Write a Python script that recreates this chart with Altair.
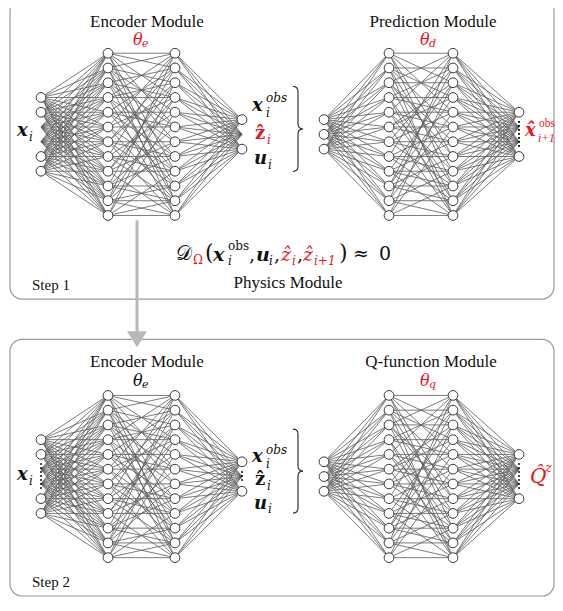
import altair as alt
import pandas as pd

# ---------------- network structure ----------------
enc_cols = [41, 108, 175, 242]          # encoder layer columns (page px)
pred_cols = [324, 389, 453, 519]        # prediction / Q-function layer columns
hidden_n = 12
node_gap = 15
step_top = [54, 402]                    # top hidden node of step 1 / step 2
enc_in_slots, enc_in_visible = 6, [0, 1, 4, 5]
enc_out_slots, enc_out_visible = 3, [0, 2]
pred_in_slots, pred_in_visible = 3, [0, 1, 2]
pred_out_slots, pred_out_visible = 4, [0, 3]

# hidden -> hidden connections (source index -> target indices)
enc_hh = [[0, 1, 3, 5, 8, 10], [0, 2, 4, 6, 9, 11], [1, 3, 5, 7, 10], [0, 2, 3, 6, 8, 11],
          [1, 4, 5, 7, 9], [0, 3, 5, 8, 10], [1, 2, 6, 7, 9, 11], [0, 4, 7, 8, 10],
          [2, 3, 6, 8, 11], [1, 5, 7, 9, 10], [0, 3, 6, 9, 10, 11], [2, 4, 8, 10, 11]]
pred_hh = [[0, 2, 4, 7, 9], [1, 3, 5, 8, 11], [0, 2, 6, 7, 10], [1, 3, 4, 9, 11],
           [0, 4, 5, 8, 10], [2, 3, 5, 6, 11], [1, 4, 6, 7, 9], [0, 5, 7, 8, 10],
           [2, 6, 8, 9, 11], [1, 3, 7, 9, 10], [0, 4, 8, 10, 11], [2, 5, 9, 11]]

# dotted "..." markers: (x, y1, y2)
dots_x = [41, 242, 519, 519]
dots_y1 = [471, 479, 123, 471]
dots_y2 = [498, 491, 149, 498]

# panels
box_x1 = [10, 10]
box_x2 = [554, 554]
box_y1 = [-1, 345]
box_y2 = [304, 606]

# ---------------- text labels ----------------
RED = "#e8141b"
BLK = "#111111"
lab_text = []
lab_x = []
lab_y = []
lab_size = []
lab_color = []
lab_group = []


def L(t, x, y, s, c, g):
    lab_text.append(t); lab_x.append(x); lab_y.append(y)
    lab_size.append(s); lab_color.append(c); lab_group.append(g)


# step 1
L("Encoder Module", 147, 22, 17, BLK, "title")
L("θ", 133, 41, 16, RED, "mi"); L("e", 142, 45, 11, RED, "mi")
L("Prediction Module", 433, 22, 17, BLK, "title")
L("θ", 420, 41, 16, RED, "mi"); L("d", 429, 45, 11, RED, "mi")
L("x", 17, 133, 18, BLK, "mbi"); L("i", 29, 139, 12, BLK, "mi")
L("x", 252, 108, 18, BLK, "mbi"); L("obs", 266, 100, 12, BLK, "mi"); L("i", 266, 115, 12, BLK, "mi")
L("ẑ", 255, 136, 18, RED, "mb"); L("i", 267, 142, 12, RED, "mi")
L("u", 254, 162, 18, BLK, "mbi"); L("i", 268, 168, 12, BLK, "mi")
L("x̂", 525, 133, 18, RED, "mbi"); L("obs", 539, 126, 11.5, RED, "sr"); L("i+1", 538, 141, 11.5, RED, "si")
# physics formula
L("𝒟", 176, 258, 20, BLK, "mr"); L("Ω", 193, 264, 12, RED, "mr")
L("(", 205, 257, 22, BLK, "mr")
L("x", 213, 259, 19, BLK, "mbi"); L("obs", 228, 250, 12, BLK, "mr"); L("i", 228, 265, 12, BLK, "mi")
L(",", 249, 259, 19, BLK, "mr")
L("u", 256, 259, 19, BLK, "mbi"); L("i", 269, 265, 12, BLK, "mi")
L(",", 274, 259, 19, BLK, "mr")
L("ẑ", 281, 259, 19, RED, "mi"); L("i", 292, 265, 12, RED, "mi")
L(",", 297, 259, 19, BLK, "mr")
L("ẑ", 303, 259, 19, RED, "mi"); L("i+1", 314, 265, 12, RED, "mi")
L(")", 339, 257, 22, BLK, "mr")
L("≈", 353, 258, 19, BLK, "mr")
L("0", 379, 258, 19, BLK, "mr")
L("Physics Module", 288, 288, 17, BLK, "title")
L("Step 1", 32, 290, 15, BLK, "serif")
# step 2
L("Encoder Module", 147, 368, 17, BLK, "title")
L("θ", 133, 387, 16, BLK, "mi"); L("e", 142, 391, 11, BLK, "mi")
L("Q-function Module", 431, 368, 17, BLK, "title")
L("θ", 420, 387, 16, RED, "mi"); L("q", 429, 391, 11, RED, "mi")
L("x", 17, 483, 18, BLK, "mbi"); L("i", 29, 489, 12, BLK, "mi")
L("x", 252, 465, 18, BLK, "mbi"); L("obs", 266, 457, 12, BLK, "mi"); L("i", 266, 472, 12, BLK, "mi")
L("ẑ", 255, 488, 18, BLK, "mb"); L("i", 267, 494, 12, BLK, "mi")
L("u", 254, 512, 18, BLK, "mbi"); L("i", 268, 518, 12, BLK, "mi")
L("Q̂", 530, 485, 20, RED, "mi"); L("z", 545, 476, 13, RED, "mi")
L("Step 2", 32, 592, 15, BLK, "serif")

# braces: centre x, centre y, height
brace_x = [298, 298]
brace_y = [131, 479]
brace_h = [85, 84]

# ---------------- build tables ----------------
def slot_ys(n, top):
    c = top + (hidden_n - 1) / 2 * node_gap
    return [c + (k - (n - 1) / 2) * node_gap for k in range(n)]


nodes, edges = [], []
for top in step_top:
    for cols, n_in, vis_in, n_out, vis_out, hh in [
        (enc_cols, enc_in_slots, enc_in_visible, enc_out_slots, enc_out_visible, enc_hh),
        (pred_cols, pred_in_slots, pred_in_visible, pred_out_slots, pred_out_visible, pred_hh),
    ]:
        y_in = slot_ys(n_in, top)
        y_h = slot_ys(hidden_n, top)
        y_out = slot_ys(n_out, top)
        for a in y_in:
            for b in y_h:
                edges.append(dict(x=cols[0], y=a, x2=cols[1], y2=b))
        for i, tg in enumerate(hh):
            for j in tg:
                edges.append(dict(x=cols[1], y=y_h[i], x2=cols[2], y2=y_h[j]))
        for a in y_h:
            for b in y_out:
                edges.append(dict(x=cols[2], y=a, x2=cols[3], y2=b))
        for k in vis_in:
            nodes.append(dict(x=cols[0], y=y_in[k]))
        for col in (cols[1], cols[2]):
            for b in y_h:
                nodes.append(dict(x=col, y=b))
        for k in vis_out:
            nodes.append(dict(x=cols[3], y=y_out[k]))

edges_df = pd.DataFrame(edges)
nodes_df = pd.DataFrame(nodes)
dots_df = pd.DataFrame(dict(x=dots_x, y=dots_y1, y2=dots_y2))
box_df = pd.DataFrame(dict(x=box_x1, x2=box_x2, y=box_y1, y2=box_y2))
lab_df = pd.DataFrame(dict(t=lab_text, x=lab_x, y=lab_y, s=lab_size, c=lab_color, g=lab_group))
brace_df = pd.DataFrame(dict(x=brace_x, y=brace_y, s=[h * h for h in brace_h]))
arrow_df = pd.DataFrame(dict(x=[137], y=[224], y2=[338]))
head_df = pd.DataFrame(dict(x=[137], y=[345]))

xs = alt.Scale(domain=[8, 555], nice=False, zero=False)
ys = alt.Scale(domain=[8, 607], nice=False, zero=False, reverse=True)


def X(f="x"):
    return alt.X(f"{f}:Q", scale=xs, axis=None)


def Y(f="y"):
    return alt.Y(f"{f}:Q", scale=ys, axis=None)


boxes = alt.Chart(box_df).mark_rect(
    fill="white", fillOpacity=0, stroke="#9a9a9a", strokeWidth=1.2, cornerRadius=12
).encode(x=X(), x2="x2:Q", y=Y(), y2="y2:Q")

arrow = alt.Chart(arrow_df).mark_rule(color="#b8b8b8", strokeWidth=3).encode(
    x=X(), y=Y(), y2="y2:Q")
head = alt.Chart(head_df).mark_point(
    shape="M-1,-0.8L1,-0.8L0,0.8Z", size=400, filled=True, color="#b8b8b8", opacity=1
).encode(x=X(), y=Y())

edge_layer = alt.Chart(edges_df).mark_rule(color="#5a5a5a", strokeWidth=0.8).encode(
    x=X(), y=Y(), x2="x2:Q", y2="y2:Q")
node_layer = alt.Chart(nodes_df).mark_point(
    shape="circle", size=95, filled=False, fill="white", fillOpacity=1,
    stroke="#3a3a3a", strokeWidth=1, opacity=1
).encode(x=X(), y=Y())
dot_layer = alt.Chart(dots_df).mark_rule(color="#111", strokeWidth=2, strokeDash=[1.6, 2.4]).encode(
    x=X(), y=Y(), y2="y2:Q")

brace_layer = alt.Chart(brace_df).mark_point(
    shape="M-0.12,-1Q0,-1 0,-0.88L0,-0.12Q0,0 0.12,0Q0,0 0,0.12L0,0.88Q0,1 -0.12,1",
    filled=False, stroke="#222", strokeWidth=1.1, opacity=1
).encode(x=X(), y=Y(), size=alt.Size("s:Q", scale=None))

SERIF = "Liberation Serif, Times New Roman, serif"
MATH = "DejaVu Serif, serif"
fonts = {
    "title": dict(font=SERIF, align="center"),
    "serif": dict(font=SERIF, align="left"),
    "sr": dict(font=SERIF, align="left"),
    "si": dict(font=SERIF, fontStyle="italic", align="left"),
    "mi": dict(font=MATH, fontStyle="italic", align="left"),
    "mbi": dict(font=MATH, fontStyle="italic", fontWeight="bold", align="left"),
    "mb": dict(font=MATH, fontWeight="bold", align="left"),
    "mr": dict(font=MATH, align="left"),
}
text_layers = []
for g, props in fonts.items():
    text_layers.append(
        alt.Chart(lab_df).transform_filter(alt.datum.g == g).mark_text(baseline="middle", **props).encode(
            x=X(), y=Y(), text="t:N",
            size=alt.Size("s:Q", scale=None),
            color=alt.Color("c:N", scale=None),
        )
    )

chart = alt.layer(
    boxes, arrow, head, edge_layer, node_layer, dot_layer, brace_layer, *text_layers
).properties(
    width=547, height=589, autosize="none", padding=0
).configure_view(stroke=None)

chart.save("out.html", embed_options={"renderer": "svg", "actions": False})
